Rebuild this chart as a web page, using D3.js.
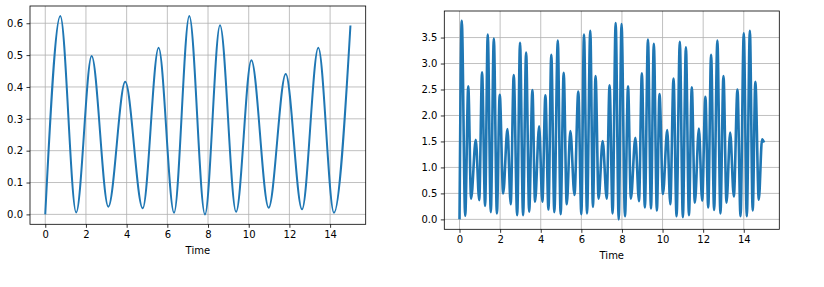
<!DOCTYPE html>
<html>
<head>
<meta charset="utf-8">
<script src="https://cdn.jsdelivr.net/npm/d3@7"></script>
<style>
  body { margin: 0; background: #fff; }
  svg text { font-family: 'DejaVu Sans', sans-serif; font-size: 10px; fill: #000; }
  .domain { display: none; }
</style>
</head>
<body>
<svg id="chart" width="824" height="287"></svg>
<script>
  'use strict';

  // left panel: peaks and troughs
  var leftTime = [0, 0.74, 1.52, 2.28, 3.10, 3.93, 4.79, 5.57, 6.33, 7.08, 7.85,
    8.59, 9.38, 10.13, 10.98, 11.82, 12.62, 13.42, 14.19, 15.0];
  var leftValue = [0, 0.623, 0.006, 0.497, 0.024, 0.416, 0.019, 0.523, 0.005, 0.623, 0.0,
    0.594, 0.008, 0.484, 0.021, 0.441, 0.016, 0.523, 0.005, 0.593];

  // right panel
  var rightTime = [0, 0.11, 0.28, 0.43, 0.57, 0.80, 0.97, 1.11, 1.26, 1.39,
    1.54, 1.69, 1.84, 1.98, 2.15, 2.36, 2.52, 2.67, 2.84, 2.98,
    3.13, 3.28, 3.43, 3.59, 3.72, 3.92, 4.08, 4.23, 4.38, 4.52,
    4.67, 4.84, 4.98, 5.13, 5.28, 5.46, 5.66, 5.85, 6.00, 6.13,
    6.28, 6.44, 6.57, 6.70, 6.85, 7.05, 7.25, 7.39, 7.54, 7.69,
    7.84, 7.98, 8.15, 8.30, 8.44, 8.66, 8.84, 8.98, 9.13, 9.28,
    9.43, 9.57, 9.72, 9.85, 10.02, 10.23, 10.38, 10.54, 10.69, 10.85,
    11.00, 11.15, 11.30, 11.44, 11.59, 11.79, 11.95, 12.11, 12.25, 12.39,
    12.54, 12.70, 12.85, 13.00, 13.15, 13.33, 13.51, 13.69, 13.84, 14.00,
    14.15, 14.30, 14.44, 14.57, 14.74, 14.90, 15.0];
  var rightValue = [0, 3.82, 0.07, 2.56, 0.40, 1.53, 0.37, 2.83, 0.26, 3.56,
    0.14, 3.48, 0.115, 2.40, 0.50, 1.74, 0.29, 2.78, 0.08, 3.40,
    0.08, 3.21, 0.15, 2.49, 0.34, 1.79, 0.34, 2.39, 0.19, 3.17,
    0.14, 3.44, 0.10, 2.82, 0.29, 1.70, 0.47, 2.46, 0.10, 3.56,
    0.115, 3.63, 0.24, 2.76, 0.40, 1.51, 0.40, 2.58, 0.115, 3.78,
    0.0, 3.76, 0.06, 2.56, 0.40, 1.57, 0.35, 2.81, 0.23, 3.46,
    0.21, 3.38, 0.17, 2.41, 0.49, 1.72, 0.29, 2.71, 0.06, 3.42,
    0.04, 3.31, 0.08, 2.54, 0.32, 1.75, 0.36, 2.36, 0.23, 3.17,
    0.18, 3.44, 0.115, 2.76, 0.32, 1.67, 0.44, 2.50, 0.06, 3.58,
    0.06, 3.63, 0.17, 2.65, 0.38, 1.54, 1.48];

  var xTicks = [0, 2, 4, 6, 8, 10, 12, 14];
  var leftYTicks = [0, 0.1, 0.2, 0.3, 0.4, 0.5, 0.6];
  var rightYTicks = [0, 0.5, 1.0, 1.5, 2.0, 2.5, 3.0, 3.5];
  var xLabel = 'Time';

  var svg = d3.select('#chart');

  // matplotlib style 5% margins
  function padded(arr) {
    var ext = d3.extent(arr);
    var m = (ext[1] - ext[0]) * 0.05;
    return [ext[0] - m, ext[1] + m];
  }

  function drawPanel(box, times, values, yTicks, lineWidth) {
    var g = svg.append('g');

    var x = d3.scaleLinear()
      .domain(padded(times))
      .range([box.left, box.right]);

    var y = d3.scaleLinear()
      .domain(padded(values))
      .range([box.bottom, box.top]);

    // grid
    g.append('g').selectAll('line')
      .data(xTicks)
      .enter().append('line')
        .attr('x1', function(d) { return x(d); })
        .attr('x2', function(d) { return x(d); })
        .attr('y1', box.top)
        .attr('y2', box.bottom)
        .attr('stroke', '#b0b0b0')
        .attr('stroke-width', 0.8);

    g.append('g').selectAll('line')
      .data(yTicks)
      .enter().append('line')
        .attr('x1', box.left)
        .attr('x2', box.right)
        .attr('y1', function(d) { return y(d); })
        .attr('y2', function(d) { return y(d); })
        .attr('stroke', '#b0b0b0')
        .attr('stroke-width', 0.8);

    var lineGen = d3.line()
      .curve(d3.curveMonotoneX)
      .x(function(d, i) { return x(times[i]); })
      .y(function(d) { return y(d); });

    g.append('path')
      .datum(values)
      .attr('fill', 'none')
      .attr('stroke', '#1f77b4')
      .attr('stroke-width', lineWidth)
      .attr('stroke-linejoin', 'round')
      .attr('stroke-linecap', 'butt')
      .attr('d', lineGen);

    // frame
    g.append('rect')
      .attr('x', box.left)
      .attr('y', box.top)
      .attr('width', box.right - box.left)
      .attr('height', box.bottom - box.top)
      .attr('fill', 'none')
      .attr('stroke', '#000')
      .attr('stroke-width', 0.8);

    var xAxis = d3.axisBottom(x)
      .tickValues(xTicks)
      .tickSize(3.5)
      .tickPadding(3.5)
      .tickFormat(d3.format('d'));

    var gx = g.append('g')
      .attr('transform', 'translate(0,' + box.bottom + ')')
      .call(xAxis);
    gx.selectAll('.tick line').attr('stroke', '#000').attr('stroke-width', 0.8);

    var yAxis = d3.axisLeft(y)
      .tickValues(yTicks)
      .tickSize(3.5)
      .tickPadding(3.5)
      .tickFormat(d3.format('.1f'));

    var gy = g.append('g')
      .attr('transform', 'translate(' + box.left + ',0)')
      .call(yAxis);
    gy.selectAll('.tick line').attr('stroke', '#000').attr('stroke-width', 0.8);

    g.selectAll('.tick text')
      .attr('font-family', null)
      .attr('font-size', null);

    g.append('text')
      .attr('x', (box.left + box.right) / 2)
      .attr('y', box.bottom + 29.7)
      .attr('text-anchor', 'middle')
      .text(xLabel);
  }

  drawPanel({ left: 30, right: 365.7, top: 6, bottom: 224.3 },
    leftTime, leftValue, leftYTicks, 2);

  drawPanel({ left: 444.3, right: 779.3, top: 11, bottom: 229.3 },
    rightTime, rightValue, rightYTicks, 2.6);
</script>
</body>
</html>
